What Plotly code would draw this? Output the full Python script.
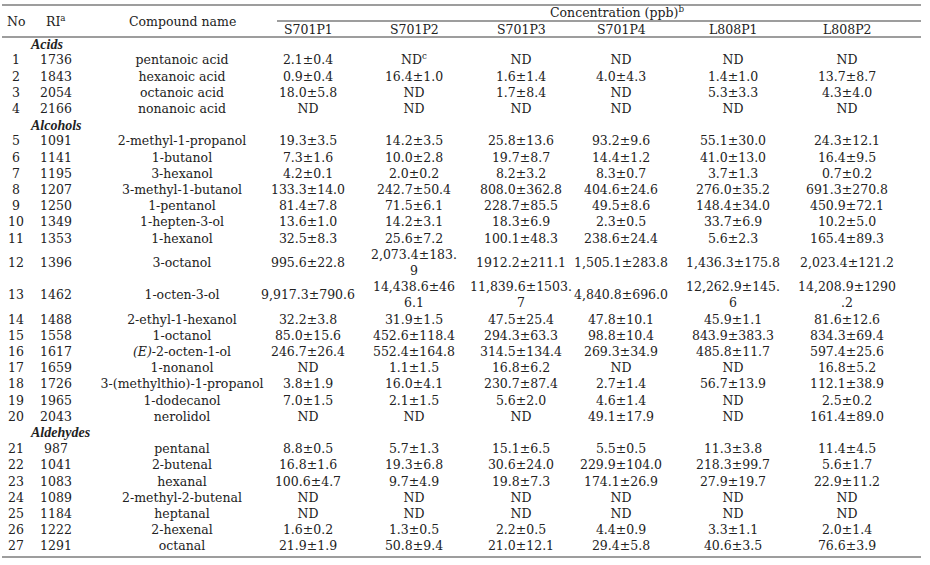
import plotly.graph_objects as go

# ---------------- data ----------------
section_names = ["Acids", "Alcohols", "Aldehydes"]
section_sizes = [4, 16, 7]

compound_no = list(range(1, 28))
ri_values = [1736, 1843, 2054, 2166,
             1091, 1141, 1195, 1207, 1250, 1349, 1353, 1396, 1462, 1488, 1558, 1617, 1659, 1726, 1965, 2043,
             987, 1041, 1083, 1089, 1184, 1222, 1291]
compound_names = ["pentanoic acid", "hexanoic acid", "octanoic acid", "nonanoic acid",
                  "2-methyl-1-propanol", "1-butanol", "3-hexanol", "3-methyl-1-butanol", "1-pentanol",
                  "1-hepten-3-ol", "1-hexanol", "3-octanol", "1-octen-3-ol", "2-ethyl-1-hexanol",
                  "1-octanol", "<i>(E)</i>-2-octen-1-ol", "1-nonanol", "3-(methylthio)-1-propanol",
                  "1-dodecanol", "nerolidol",
                  "pentanal", "2-butenal", "hexanal", "2-methyl-2-butenal", "heptanal", "2-hexenal", "octanal"]

sample_names = ["S701P1", "S701P2", "S701P3", "S701P4", "L808P1", "L808P2"]

s701p1 = ["2.1±0.4", "0.9±0.4", "18.0±5.8", "ND",
          "19.3±3.5", "7.3±1.6", "4.2±0.1", "133.3±14.0", "81.4±7.8", "13.6±1.0", "32.5±8.3",
          "995.6±22.8", "9,917.3±790.6", "32.2±3.8", "85.0±15.6", "246.7±26.4", "ND", "3.8±1.9",
          "7.0±1.5", "ND",
          "8.8±0.5", "16.8±1.6", "100.6±4.7", "ND", "ND", "1.6±0.2", "21.9±1.9"]
s701p2 = ["ND<sup>c</sup>", "16.4±1.0", "ND", "ND",
          "14.2±3.5", "10.0±2.8", "2.0±0.2", "242.7±50.4", "71.5±6.1", "14.2±3.1", "25.6±7.2",
          "2,073.4±183.\n9", "14,438.6±46\n6.1", "31.9±1.5", "452.6±118.4", "552.4±164.8", "1.1±1.5",
          "16.0±4.1", "2.1±1.5", "ND",
          "5.7±1.3", "19.3±6.8", "9.7±4.9", "ND", "ND", "1.3±0.5", "50.8±9.4"]
s701p3 = ["ND", "1.6±1.4", "1.7±8.4", "ND",
          "25.8±13.6", "19.7±8.7", "8.2±3.2", "808.0±362.8", "228.7±85.5", "18.3±6.9", "100.1±48.3",
          "1912.2±211.1", "11,839.6±1503.\n7", "47.5±25.4", "294.3±63.3", "314.5±134.4", "16.8±6.2",
          "230.7±87.4", "5.6±2.0", "ND",
          "15.1±6.5", "30.6±24.0", "19.8±7.3", "ND", "ND", "2.2±0.5", "21.0±12.1"]
s701p4 = ["ND", "4.0±4.3", "ND", "ND",
          "93.2±9.6", "14.4±1.2", "8.3±0.7", "404.6±24.6", "49.5±8.6", "2.3±0.5", "238.6±24.4",
          "1,505.1±283.8", "4,840.8±696.0", "47.8±10.1", "98.8±10.4", "269.3±34.9", "ND", "2.7±1.4",
          "4.6±1.4", "49.1±17.9",
          "5.5±0.5", "229.9±104.0", "174.1±26.9", "ND", "ND", "4.4±0.9", "29.4±5.8"]
l808p1 = ["ND", "1.4±1.0", "5.3±3.3", "ND",
          "55.1±30.0", "41.0±13.0", "3.7±1.3", "276.0±35.2", "148.4±34.0", "33.7±6.9", "5.6±2.3",
          "1,436.3±175.8", "12,262.9±145.\n6", "45.9±1.1", "843.9±383.3", "485.8±11.7", "ND",
          "56.7±13.9", "ND", "ND",
          "11.3±3.8", "218.3±99.7", "27.9±19.7", "ND", "ND", "3.3±1.1", "40.6±3.5"]
l808p2 = ["ND", "13.7±8.7", "4.3±4.0", "ND",
          "24.3±12.1", "16.4±9.5", "0.7±0.2", "691.3±270.8", "450.9±72.1", "10.2±5.0", "165.4±89.3",
          "2,023.4±121.2", "14,208.9±1290\n.2", "81.6±12.6", "834.3±69.4", "597.4±25.6", "16.8±5.2",
          "112.1±38.9", "2.5±0.2", "161.4±89.0",
          "11.4±4.5", "5.6±1.7", "22.9±11.2", "ND", "ND", "2.0±1.4", "76.6±3.9"]
sample_values = [s701p1, s701p2, s701p3, s701p4, l808p1, l808p2]

header_labels = ["No", "RI<sup>a</sup>", "Compound name"]
group_title = "Concentration (ppb)<sup>b</sup>"

# ---------------- layout constants ----------------
W, H = 930, 565
FONT = "DejaVu Serif"
FS = 12.5
TXT = "#222222"
RULE = "#7d7d7d"
x_no, x_ri, x_name = 16, 56, 182
x_samples = [308, 414, 521, 621, 733, 847]
x_section = 31
x_left, x_right, x_group = 2, 921, 277
y_top_rule, y_group_rule, y_head_rule = 5, 21, 37
y_head, y_group_title, y_sample_head = 21, 12, 29
pitch = 16.2

# ---------------- row layout ----------------
rows = []
k = 0
for sname, size in zip(section_names, section_sizes):
    rows.append(("section", sname))
    for _ in range(size):
        rows.append(("data", k))
        k += 1

cursor = y_head_rule
sec_y, sec_text = [], []
data_y = [None] * len(compound_no)
for kind, item in rows:
    if kind == "section":
        n = 1
        sec_y.append(cursor + pitch / 2)
        sec_text.append(f"<b><i>{item}</i></b>")
    else:
        n = max(col[item].count("\n") + 1 for col in sample_values)
        data_y[item] = cursor + n * pitch / 2
    cursor += n * pitch
y_bottom_rule = cursor + 1.5

fig = go.Figure()


def add_col(x, texts, ys, pos="middle center", font=None):
    fig.add_trace(go.Scatter(
        x=[x] * len(texts), y=ys, text=texts, mode="text",
        textposition=pos, hoverinfo="skip", showlegend=False,
        textfont=font or dict(family=FONT, size=FS, color=TXT)))


add_col(x_no, [str(v) for v in compound_no], data_y)
add_col(x_ri, [str(v) for v in ri_values], data_y)
add_col(x_name, compound_names, data_y)
for xs, col in zip(x_samples, sample_values):
    add_col(xs, [c.replace("\n", "<br>") for c in col], data_y)
add_col(x_section, sec_text, sec_y, pos="middle right",
        font=dict(family="Liberation Serif", size=14, color=TXT))

# headers
for xh, lab in zip([x_no, x_ri, x_name], header_labels):
    fig.add_annotation(x=xh, y=y_head, text=lab, showarrow=False, xref="x", yref="y",
                       font=dict(family=FONT, size=FS, color=TXT))
for xs, lab in zip(x_samples, sample_names):
    fig.add_annotation(x=xs, y=y_sample_head, text=lab, showarrow=False, xref="x", yref="y",
                       font=dict(family=FONT, size=FS, color=TXT))
fig.add_annotation(x=(x_group + x_right) / 2 + 18, y=y_group_title, text=group_title, showarrow=False,
                   xref="x", yref="y", font=dict(family=FONT, size=FS, color=TXT))

# rules
for y0, xa in [(y_top_rule, x_left), (y_group_rule, x_group), (y_head_rule, x_left), (y_bottom_rule, x_left)]:
    fig.add_shape(type="line", x0=xa, x1=x_right, y0=y0, y1=y0, xref="x", yref="y",
                  line=dict(color=RULE, width=1.5))

fig.update_layout(
    width=W, height=H, margin=dict(l=0, r=0, t=0, b=0),
    paper_bgcolor="white", plot_bgcolor="white",
    xaxis=dict(range=[0, W], visible=False, fixedrange=True),
    yaxis=dict(range=[H, 0], visible=False, fixedrange=True),
)
fig.write_html("out.html", config={"displayModeBar": False},
               post_script="document.body.style.margin='0';document.body.style.overflow='hidden';")
